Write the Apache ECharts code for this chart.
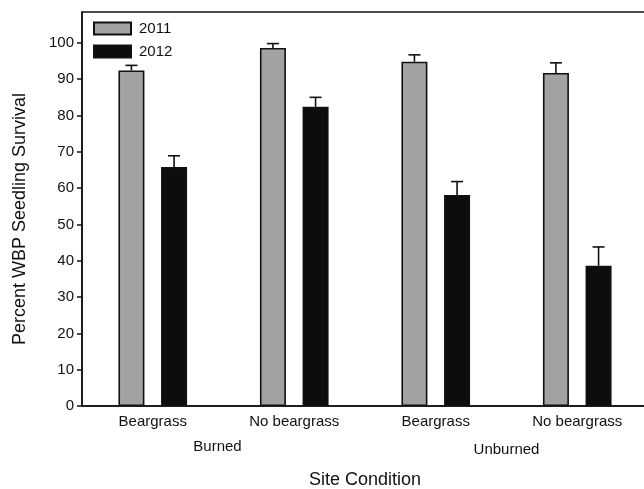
<!DOCTYPE html>
<html>
<head>
<meta charset="utf-8">
<script src="https://cdn.jsdelivr.net/npm/echarts@6/dist/echarts.min.js"></script>
<style>
  html, body { margin: 0; padding: 0; background: #fff; }
  #chart { width: 644px; height: 489px; }
</style>
</head>
<body>
<div id="chart"></div>
<script>
// Seedling survival by site condition, two survey years
const categories = ['Beargrass', 'No beargrass', 'Beargrass', 'No beargrass'];
const groups = ['Burned', 'Unburned'];
const years = ['2011', '2012'];
const survival2011 = [92.4, 98.6, 94.8, 91.7];
const survival2012 = [65.8, 82.4, 58.1, 38.6];
const error2011 = [1.4, 1.2, 1.9, 2.8];
const error2012 = [3.1, 2.6, 3.7, 5.2];
const yTicks = [0, 10, 20, 30, 40, 50, 60, 70, 80, 90, 100];

const FONT = '"Liberation Sans", Arial, sans-serif';
const BAR_W = 26;
const GAP = 0.64;
const HALF_OFFSET = (BAR_W + BAR_W * GAP) / 2;

function errorBars(values, errors, side) {
  return {
    type: 'custom',
    silent: true,
    z: 5,
    data: values.map((v, i) => [i, v, errors[i]]),
    renderItem: function (params, api) {
      const i = api.value(0), v = api.value(1), e = api.value(2);
      const base = api.coord([i, v]);
      const top = api.coord([i, v + e]);
      const x = base[0] + side * HALF_OFFSET;
      const cap = 6;
      const st = { stroke: '#111', lineWidth: 1.6 };
      return {
        type: 'group',
        children: [
          { type: 'line', shape: { x1: x, y1: base[1], x2: x, y2: top[1] }, style: st },
          { type: 'line', shape: { x1: x - cap, y1: top[1], x2: x + cap, y2: top[1] }, style: st }
        ]
      };
    }
  };
}

const chart = echarts.init(document.getElementById('chart'), null, { renderer: 'canvas' });

const option = {
  animation: false,
  backgroundColor: '#fff',
  textStyle: { fontFamily: FONT },
  grid: {
    left: 82, right: -4, top: 12, bottom: 83,
    outerBoundsMode: 'none',
    containLabel: false,
    show: true, borderColor: '#111', borderWidth: 1.5, backgroundColor: 'transparent'
  },
  legend: {
    orient: 'vertical',
    left: 93, top: 21,
    padding: 0,
    itemWidth: 37, itemHeight: 12, itemGap: 8,
    icon: 'rect',
    textStyle: { fontFamily: FONT, fontSize: 15, color: '#111', padding: [0, 0, 0, 3] },
    data: years
  },
  xAxis: {
    type: 'category',
    data: categories,
    name: 'Site Condition',
    nameLocation: 'middle',
    nameGap: 65,
    nameTextStyle: { fontFamily: FONT, fontSize: 18, color: '#111' },
    axisLine: { lineStyle: { color: '#111', width: 1.5 } },
    axisTick: { alignWithLabel: true, length: 5, lineStyle: { color: '#111', width: 1.5 } },
    axisLabel: { fontFamily: FONT, fontSize: 15, color: '#111', margin: 8, interval: 0 },
    splitLine: { show: false }
  },
  yAxis: {
    type: 'value',
    min: 0, max: 108.5,
    name: 'Percent WBP Seedling Survival',
    nameLocation: 'middle',
    nameGap: 53,
    nameTextStyle: { fontFamily: FONT, fontSize: 18, color: '#111', padding: [0, 20, 0, 0] },
    axisLine: { show: true, lineStyle: { color: '#111', width: 1.5 } },
    axisTick: { show: true, length: 5, customValues: yTicks, lineStyle: { color: '#111', width: 1.5 } },
    axisLabel: { fontFamily: FONT, fontSize: 15, color: '#111', margin: 8, customValues: yTicks },
    splitLine: { show: false }
  },
  series: [
    {
      name: years[0], type: 'bar', data: survival2011,
      barWidth: BAR_W, barGap: (GAP * 100) + '%',
      itemStyle: { color: '#a2a2a2', borderColor: '#111', borderWidth: 1.6 }
    },
    {
      name: years[1], type: 'bar', data: survival2012,
      barWidth: BAR_W, barGap: (GAP * 100) + '%',
      itemStyle: { color: '#0d0d0d', borderColor: '#111', borderWidth: 1.6 }
    },
    errorBars(survival2011, error2011, -1),
    errorBars(survival2012, error2012, 1)
  ]
};

chart.setOption(option);

// Group labels centred under each pair of categories
const groupTexts = groups.map((g, k) => {
  const a = chart.convertToPixel({ xAxisIndex: 0 }, 2 * k);
  const b = chart.convertToPixel({ xAxisIndex: 0 }, 2 * k + 1);
  return {
    type: 'text',
    x: (a + b) / 2 - (k === 0 ? 6 : 0),
    y: k === 0 ? 447 : 450,
    style: {
      text: g, fontFamily: FONT, fontSize: 15, fill: '#111',
      align: 'center', verticalAlign: 'middle'
    }
  };
});
chart.setOption({ graphic: groupTexts });
</script>
</body>
</html>
